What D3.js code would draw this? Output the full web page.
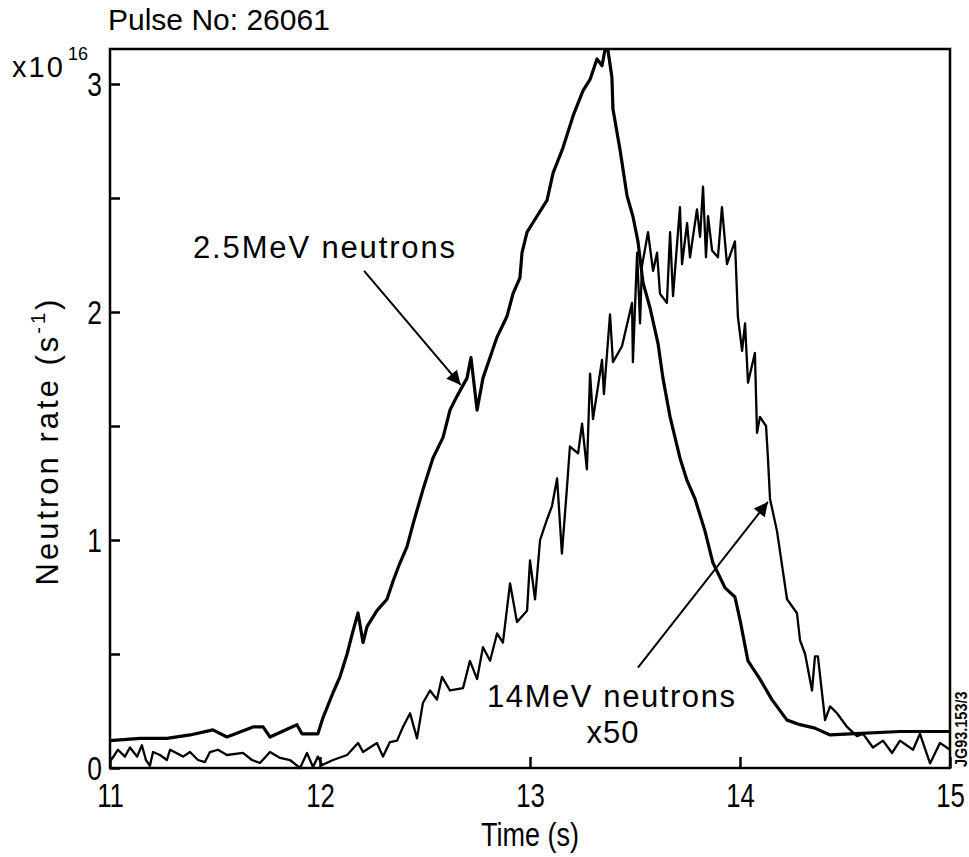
<!DOCTYPE html>
<meta charset="utf-8">
<style>
  body { margin: 0; background: #fff; }
  text { font-family: "Liberation Sans", Arial, sans-serif; fill: #000; }
  .axis path, .axis line { stroke: #000; stroke-width: 2.5px; }
  .trace { fill: none; stroke: #000; stroke-linejoin: round; }
</style>
<svg width="969" height="857"></svg>
<script src="https://d3js.org/d3.v7.min.js"></script>
<script>
var svg = d3.select("svg");

// 2.5 MeV neutron rate (x10^16 s^-1)
var t25 = [11.000, 11.143, 11.271, 11.381, 11.490, 11.557, 11.681, 11.729, 11.762, 11.890,
           11.914, 11.990, 12.014, 12.062, 12.095, 12.129, 12.157, 12.181, 12.205, 12.224,
           12.271, 12.319, 12.348, 12.381, 12.414, 12.443, 12.490, 12.538, 12.586, 12.619,
           12.652, 12.700, 12.719, 12.748, 12.776, 12.843, 12.890, 12.919, 12.952, 12.962,
           12.986, 13.033, 13.081, 13.110, 13.157, 13.205, 13.252, 13.286, 13.319, 13.343,
           13.357, 13.371, 13.390, 13.395, 13.429, 13.462, 13.490, 13.514, 13.538, 13.571,
           13.610, 13.633, 13.667, 13.714, 13.748, 13.786, 13.833, 13.871, 13.929, 13.976,
           14.000, 14.038, 14.095, 14.152, 14.224, 14.286, 14.357, 14.429, 14.524, 14.762, 15.000];
var v25 = [0.12, 0.13, 0.13, 0.145, 0.167, 0.136, 0.18, 0.18, 0.136, 0.19,
           0.15, 0.15, 0.22, 0.33, 0.40, 0.50, 0.60, 0.68, 0.55, 0.62,
           0.69, 0.74, 0.82, 0.90, 0.97, 1.07, 1.22, 1.36, 1.45, 1.57,
           1.63, 1.71, 1.80, 1.57, 1.71, 1.89, 1.98, 2.08, 2.15, 2.26,
           2.35, 2.42, 2.49, 2.61, 2.72, 2.86, 2.97, 3.02, 3.11, 3.08,
           3.15, 3.15, 3.03, 2.89, 2.71, 2.51, 2.42, 2.31, 2.13, 2.02,
           1.86, 1.71, 1.54, 1.36, 1.26, 1.18, 1.04, 0.90, 0.79, 0.75,
           0.65, 0.47, 0.39, 0.30, 0.21, 0.19, 0.175, 0.145, 0.15, 0.16, 0.16];

// 14 MeV neutron rate x50 (x10^16 s^-1)
var t14 = [11.005, 11.038, 11.071, 11.095, 11.129, 11.152, 11.171, 11.190, 11.205, 11.238,
           11.271, 11.286, 11.348, 11.381, 11.419, 11.452, 11.476, 11.514, 11.557, 11.633,
           11.676, 11.714, 11.762, 11.810, 11.857, 11.905, 11.938, 11.967, 11.990, 12.010,
           12.062, 12.129, 12.181, 12.205, 12.271, 12.300, 12.333, 12.367, 12.395, 12.429,
           12.462, 12.490, 12.524, 12.557, 12.581, 12.619, 12.681, 12.714, 12.748, 12.776,
           12.810, 12.843, 12.871, 12.905, 12.938, 12.986, 13.000, 13.024, 13.048, 13.081,
           13.105, 13.129, 13.152, 13.176, 13.190, 13.229, 13.248, 13.271, 13.286, 13.300,
           13.343, 13.352, 13.381, 13.395, 13.438, 13.486, 13.490, 13.510, 13.524, 13.533,
           13.562, 13.586, 13.605, 13.619, 13.652, 13.667, 13.681, 13.714, 13.724, 13.748,
           13.762, 13.795, 13.810, 13.824, 13.838, 13.848, 13.867, 13.895, 13.914, 13.938,
           13.976, 13.990, 14.010, 14.024, 14.038, 14.071, 14.081, 14.095, 14.124, 14.133,
           14.143, 14.176, 14.224, 14.271, 14.286, 14.310, 14.343, 14.357, 14.371, 14.405,
           14.429, 14.462, 14.510, 14.557, 14.586, 14.633, 14.681, 14.724, 14.762, 14.824,
           14.857, 14.905, 14.952, 15.000];
var v14 = [0.035, 0.08, 0.05, 0.09, 0.05, 0.10, 0.035, 0.01, 0.07, 0.057,
           0.035, 0.08, 0.05, 0.07, 0.035, 0.026, 0.07, 0.08, 0.057, 0.066,
           0.035, 0.022, 0.07, 0.044, 0.035, 0.0, 0.066, 0.004, 0.05, 0.013,
           0.035, 0.057, 0.11, 0.07, 0.11, 0.05, 0.114, 0.12, 0.18, 0.24,
           0.13, 0.285, 0.34, 0.30, 0.40, 0.34, 0.35, 0.47, 0.39, 0.53,
           0.47, 0.59, 0.55, 0.81, 0.64, 0.69, 0.91, 0.74, 1.00, 1.09,
           1.15, 1.27, 0.94, 1.23, 1.41, 1.38, 1.51, 1.31, 1.73, 1.53,
           1.79, 1.64, 1.99, 1.78, 1.85, 2.04, 1.78, 2.26, 1.95, 2.20,
           2.35, 2.18, 2.26, 2.08, 2.04, 2.35, 2.07, 2.46, 2.21, 2.39,
           2.24, 2.45, 2.33, 2.55, 2.24, 2.42, 2.27, 2.24, 2.46, 2.21,
           2.31, 1.98, 1.83, 1.95, 1.69, 1.82, 1.47, 1.54, 1.50, 1.36,
           1.18, 1.04, 0.74, 0.68, 0.56, 0.50, 0.34, 0.49, 0.49, 0.21,
           0.27, 0.24, 0.18, 0.14, 0.15, 0.09, 0.12, 0.066, 0.12, 0.08,
           0.15, 0.02, 0.11, 0.08];

var xTicks = [11, 12, 13, 14, 15];
var yTicks = [0, 0.5, 1, 1.5, 2, 2.5, 3];

var x = d3.scaleLinear().domain([11, 15]).range([110, 950]);
var y = d3.scaleLinear().domain([0, 719 / 228]).range([768, 49]);

// frame
svg.append("rect")
   .attr("x", 110).attr("y", 49).attr("width", 840).attr("height", 719)
   .attr("fill", "none").attr("stroke", "#000").attr("stroke-width", 2.5);

var yAxis = svg.append("g").attr("class", "axis")
   .attr("transform", "translate(110,0)")
   .call(d3.axisLeft(y).tickValues(yTicks).tickSize(-10).tickPadding(10)
         .tickFormat(d => Number.isInteger(d) ? d : ""));
yAxis.selectAll("text").attr("font-size", 33).attr("dy", "0.34em")
     .attr("transform", "scale(0.8,1)");

var xAxis = svg.append("g").attr("class", "axis")
   .attr("transform", "translate(0,768)")
   .call(d3.axisBottom(x).tickValues(xTicks).tickSize(-11).tickPadding(16)
         .tickFormat(d3.format("d")));
xAxis.selectAll("text").attr("font-size", 33).attr("transform", "scale(0.78,1)");
svg.selectAll(".axis .domain").remove();

// traces
var line = d3.line().x(d => x(d[0])).y(d => y(d[1]));
svg.append("path").attr("class", "trace").attr("stroke-width", 3.2)
   .attr("d", line(d3.zip(t25, v25)));
svg.append("path").attr("class", "trace").attr("stroke-width", 2.3)
   .attr("d", line(d3.zip(t14, v14)));

// titles
svg.append("text").attr("x", 108).attr("y", 30).attr("font-size", 30).text("Pulse No: 26061");
svg.append("text").attr("x", 12).attr("y", 77).attr("font-size", 29)
   .attr("letter-spacing", 2).text("x10");
svg.append("text").attr("x", 68).attr("y", 60).attr("font-size", 18).text("16");

svg.append("text").attr("transform", "translate(530,846) scale(0.82,1)")
   .attr("text-anchor", "middle").attr("font-size", 33).text("Time (s)");
var yl = svg.append("text").attr("transform", "translate(58,441) rotate(-90)")
   .attr("text-anchor", "middle").attr("font-size", 31).attr("letter-spacing", 3);
yl.append("tspan").text("Neutron rate (s");
yl.append("tspan").attr("font-size", 20).attr("dy", -13).text("-1");
yl.append("tspan").attr("dy", 13).text(")");

svg.append("text")
   .attr("transform", "translate(967,767) rotate(-90) scale(0.85,1)")
   .attr("font-size", 17).attr("font-weight", "bold").text("JG93.153/3");

// annotations
svg.append("defs").append("marker").attr("id", "arr2")
   .attr("viewBox", "0 0 10 10").attr("refX", 10).attr("refY", 5)
   .attr("markerWidth", 22).attr("markerHeight", 14).attr("markerUnits", "userSpaceOnUse")
   .attr("orient", "auto")
   .append("path").attr("d", "M0,0L10,5L0,10Z").attr("fill", "#000");

svg.append("text").attr("x", 193).attr("y", 258).attr("font-size", 31)
   .attr("textLength", 262).text("2.5MeV neutrons");
svg.append("line")
   .attr("x1", x(12.21)).attr("y1", y(2.18)).attr("x2", x(12.67)).attr("y2", y(1.68))
   .attr("stroke", "#000").attr("stroke-width", 2).attr("marker-end", "url(#arr2)");

svg.append("text").attr("x", 487).attr("y", 707).attr("font-size", 31)
   .attr("textLength", 248).text("14MeV neutrons");
svg.append("text").attr("x", 613).attr("y", 743).attr("font-size", 31)
   .attr("text-anchor", "middle").attr("letter-spacing", 1).text("x50");
svg.append("line")
   .attr("x1", x(13.514)).attr("y1", y(0.44)).attr("x2", x(14.133)).attr("y2", y(1.167))
   .attr("stroke", "#000").attr("stroke-width", 2).attr("marker-end", "url(#arr2)");
</script>
